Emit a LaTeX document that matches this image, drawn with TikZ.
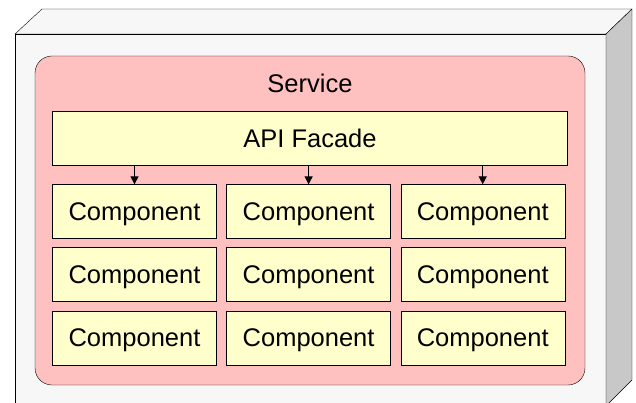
\documentclass[tikz,border=0pt]{standalone}
\usepackage{fontspec}
\setmainfont{Liberation Sans}
\usetikzlibrary{positioning,arrows.meta}
\definecolor{facegray}{HTML}{F7F7F7}
\definecolor{sidegray}{HTML}{C8C8C8}
\definecolor{servicepink}{HTML}{FFC0C0}
\definecolor{compyellow}{HTML}{FFFFCC}
\tikzset{
x=1pt,
y=-1pt,
>={Triangle[length=8pt,width=8pt]},
line width=1.8pt,
node distance=8.7pt and 9.7pt,
boxface/.style={draw, fill=facegray, line join=round},
boxside/.style={draw, fill=sidegray, line join=round},
service/.style={draw, fill=servicepink, rounded corners=17pt, minimum width=550pt, minimum height=329pt},
component/.style={draw, fill=compyellow, minimum width=164pt, minimum height=54pt, inner sep=0pt, text depth=0pt, font=\fontsize{25.5}{30}\selectfont},
facade/.style={component, minimum width=515pt},
}

\begin{document}
\begin{tikzpicture}
        \useasboundingbox (0,0) rectangle (636,403);
        % the box around it
        \draw[boxface] (15,34) -- (42,9) -- (632,9) -- (606,34) -- cycle;
        \draw[boxface] (15,34) rectangle (606,420);
        \draw[boxside] (606,34) -- (632,9) -- (632,380) -- (606,406) -- cycle;

        \node[service] (svc) at (310,220.5) {};
        \node[font=\fontsize{25.5}{30}\selectfont] (svctitle) at (310,83) {Service};

        \node[facade] (api) at (310,138) {API Facade};

        \node[component] (c11) at (134.5,211.5) {Component};
        \node[component,right=of c11] (c12) {Component};
        \node[component,right=of c12] (c13) {Component};

        \node[component,below=of c11] (c21) {Component};
        \node[component,right=of c21] (c22) {Component};
        \node[component,right=of c22] (c23) {Component};

        \node[component,below=of c21] (c31) {Component};
        \node[component,right=of c31] (c32) {Component};
        \node[component,right=of c32] (c33) {Component};

        \draw[->, line width=1.4pt] (api.south -| c11) -- (c11.north);
        \draw[->, line width=1.4pt] (api.south -| c12) -- (c12.north);
        \draw[->, line width=1.4pt] (api.south -| c13) -- (c13.north);
\end{tikzpicture}
\end{document}
